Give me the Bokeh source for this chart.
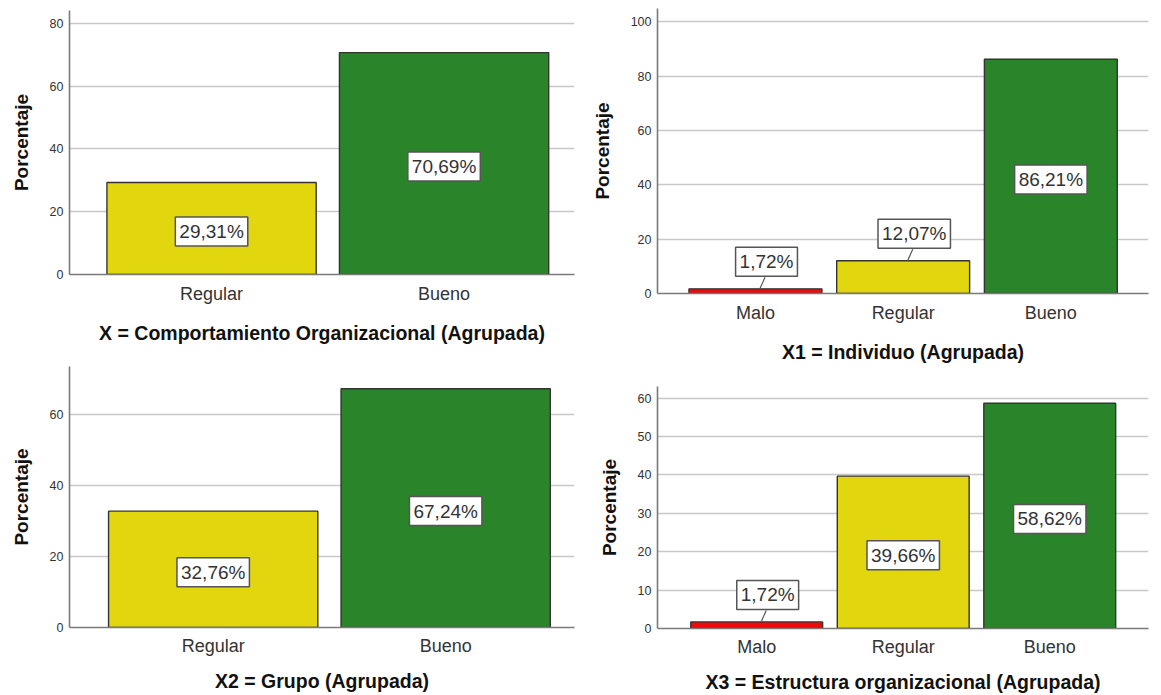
from bokeh.plotting import figure
from bokeh.models import ColumnDataSource, Range1d, FixedTicker
from bokeh.layouts import row, column
from bokeh.embed import file_html
from bokeh.resources import INLINE
from bokeh.core.properties import value

# ---------------- data ----------------
cats_x = ["Regular", "Bueno"]
pct_x = [29.31, 70.69]
yticks_x = [0, 20, 40, 60, 80]
title_x = "X = Comportamiento Organizacional (Agrupada)"

cats_x1 = ["Malo", "Regular", "Bueno"]
pct_x1 = [1.72, 12.07, 86.21]
yticks_x1 = [0, 20, 40, 60, 80, 100]
title_x1 = "X1 = Individuo (Agrupada)"

cats_x2 = ["Regular", "Bueno"]
pct_x2 = [32.76, 67.24]
yticks_x2 = [0, 20, 40, 60]
title_x2 = "X2 = Grupo (Agrupada)"

cats_x3 = ["Malo", "Regular", "Bueno"]
pct_x3 = [1.72, 39.66, 58.62]
yticks_x3 = [0, 10, 20, 30, 40, 50, 60]
title_x3 = "X3 = Estructura organizacional (Agrupada)"

y_label = "Porcentaje"

# ---------------- style ----------------
FONT_NAME = "Liberation Sans"
FONT = value(FONT_NAME)
COLORS = {"Malo": "#F00A0A", "Regular": "#E2D60F", "Bueno": "#2A852A"}


def fmt(v):
    return ("%.2f" % v).replace(".", ",") + "%"


def make_panel(cats, pct, yticks, title, width, height, borders, xr, ymax,
               lab_so=9, title_so=15):
    bl, br, bt, bb = borders
    p = figure(width=width, height=height, output_backend="svg",
               toolbar_location=None,
               x_range=Range1d(*xr), y_range=Range1d(0, ymax),
               min_border_left=bl, min_border_right=br,
               min_border_top=bt, min_border_bottom=bb)
    p.outline_line_color = None
    p.background_fill_color = "white"
    p.border_fill_color = "white"

    idx = list(range(len(cats)))
    src = ColumnDataSource(dict(x=idx, top=pct,
                                color=[COLORS[c] for c in cats]))
    p.vbar(x="x", top="top", bottom=0, width=0.9, source=src,
           fill_color="color", line_color="#333333", line_width=1.4)

    # value labels
    frame_h = height - bt - bb
    ppu = frame_h / ymax
    lx, ly, lt = [], [], []
    sx0, sy0, sx1, sy1 = [], [], [], []
    for i, v in zip(idx, pct):
        if v * ppu > 50:
            lx.append(i)
            ly.append(v / 2.0 - 3.0 / ppu)
        else:
            lx.append(i + 0.075)
            ly.append(v + 27.0 / ppu)
            sx0.append(i + 0.03)
            sy0.append(v)
            sx1.append(i + 0.065)
            sy1.append(v + 11.5 / ppu)
        lt.append(fmt(v))
    if sx0:
        p.segment(x0=sx0, y0=sy0, x1=sx1, y1=sy1,
                  line_color="#555555", line_width=1.2)
    p.text(x=lx, y=ly, text=lt, text_font=FONT, text_font_size="19px",
           text_color="#333333", text_align="center", text_baseline="middle",
           background_fill_color="white", border_line_color="#555555",
           border_line_width=1.5, padding=4)

    # axes
    xa = p.xaxis[0]
    xa.ticker = FixedTicker(ticks=idx)
    xa.major_label_overrides = {i: c for i, c in zip(idx, cats)}
    xa.axis_line_color = "#7a7a7a"
    xa.axis_line_width = 1.6
    xa.major_tick_line_color = None
    xa.minor_tick_line_color = None
    xa.major_tick_out = 0
    xa.major_tick_in = 0
    xa.major_label_text_font = FONT_NAME
    xa.major_label_text_font_size = "18px"
    xa.major_label_text_color = "#333333"
    xa.major_label_standoff = lab_so
    xa.axis_label = title
    xa.axis_label_text_font = FONT_NAME
    xa.axis_label_text_font_size = "19.5px"
    xa.axis_label_text_font_style = "bold"
    xa.axis_label_text_color = "#111111"
    xa.axis_label_standoff = title_so

    ya = p.yaxis[0]
    ya.ticker = FixedTicker(ticks=yticks)
    ya.axis_line_color = "#7a7a7a"
    ya.axis_line_width = 1.6
    ya.major_tick_line_color = None
    ya.minor_tick_line_color = None
    ya.major_tick_out = 0
    ya.major_tick_in = 0
    ya.major_label_text_font = FONT_NAME
    ya.major_label_text_font_size = "12.5px"
    ya.major_label_text_color = "#333333"
    ya.major_label_standoff = 6
    ya.axis_label = y_label
    ya.axis_label_text_font = FONT_NAME
    ya.axis_label_text_font_size = "19px"
    ya.axis_label_text_font_style = "bold"
    ya.axis_label_text_color = "#111111"
    ya.axis_label_standoff = 15

    p.xgrid.visible = False
    p.ygrid.grid_line_color = "#C8C8C8"
    p.ygrid.grid_line_width = 1.5
    return p


p1 = make_panel(cats_x, pct_x, yticks_x, title_x, 588, 350,
                (69, 14, 10, 76), (-0.611, 1.561), 84.1)
p3 = make_panel(cats_x2, pct_x2, yticks_x2, title_x2, 588, 345,
                (68, 14, 16, 68), (-0.618, 1.554), 73.5, 8, 11)
p2 = make_panel(cats_x1, pct_x1, yticks_x1, title_x1, 573, 370,
                (67, 13, 8, 77), (-0.663, 2.661), 104.9)
p4 = make_panel(cats_x3, pct_x3, yticks_x3, title_x3, 573, 325,
                (60, 6, 16, 67), (-0.677, 2.674), 63.0, 8, 11)

layout = row(column(p1, p3), column(p2, p4))
open("out.html", "w").write(file_html(layout, INLINE))
